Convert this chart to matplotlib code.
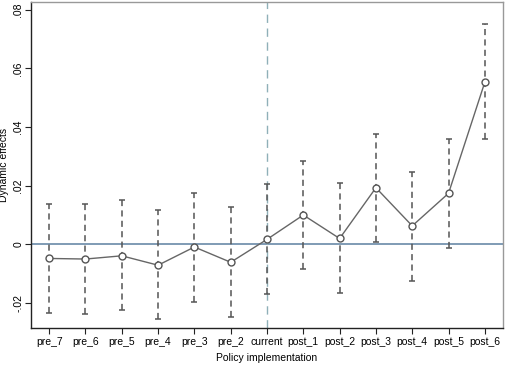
import matplotlib
matplotlib.use("Agg")
import matplotlib.pyplot as plt
import numpy as np

categories = ["pre_7", "pre_6", "pre_5", "pre_4", "pre_3", "pre_2", "current",
              "post_1", "post_2", "post_3", "post_4", "post_5", "post_6"]
estimates = [-0.0048, -0.0050, -0.0039, -0.0071, -0.0009, -0.0061, 0.0017,
             0.0100, 0.0020, 0.0193, 0.0063, 0.0174, 0.0553]
ci_upper = [0.0137, 0.0136, 0.0150, 0.0118, 0.0176, 0.0126, 0.0205,
            0.0284, 0.0208, 0.0376, 0.0246, 0.0359, 0.0750]
ci_lower = [-0.0234, -0.0236, -0.0224, -0.0256, -0.0198, -0.0247, -0.0170,
            -0.0085, -0.0165, 0.0007, -0.0125, -0.0014, 0.0358]
yticks = [-0.02, 0, 0.02, 0.04, 0.06, 0.08]
ytick_labels = ["-.02", "0", ".02", ".04", ".06", ".08"]

plt.rcParams['font.family'] = ['Liberation Sans', 'DejaVu Sans']

fig = plt.figure(figsize=(5.05, 3.65), dpi=100)
ax = fig.add_axes([31/505, 1-327.7/365, (503-31)/505, (327.7-2)/365])

x = np.arange(1, len(categories) + 1)
est = np.array(estimates)
lo = np.array(ci_lower)
hi = np.array(ci_upper)

ax.axhline(0, color="#6a8aa8", lw=1.2, zorder=1)
ax.axvline(7, color="#8fb0b8", lw=1.0, ls=(0, (6, 4)), zorder=1)

eb = ax.errorbar(x, est, yerr=[est - lo, hi - est], fmt="none", ecolor="#555555",
                 elinewidth=1.1, capsize=2.2, capthick=1.1, zorder=2)
for lc in eb[2]:
    lc.set_linestyle((0, (4.0, 2.8)))

ax.plot(x, est, color="#666666", lw=1.0, zorder=3)
ax.plot(x, est, ls="none", marker="o", ms=5.0, mfc="white", mec="#555555",
        mew=1.0, zorder=4)

ax.set_xlim(0.5, 13.5)
ax.set_ylim(-0.0284, 0.0826)
ax.set_xticks(x)
ax.set_xticklabels(categories, fontsize=7.5)
ax.set_yticks(yticks)
ax.set_yticklabels(ytick_labels, fontsize=7.5, rotation=90, va="center")
ax.tick_params(direction="out", length=4, width=0.8, color="#222222", pad=3)
ax.tick_params(axis="y", pad=1.5)

ax.set_xlabel("Policy implementation", fontsize=7.5, labelpad=4)
ax.set_ylabel("Dynamic effects", fontsize=7.5)
ax.yaxis.set_label_coords(-0.046, 0.5)

for s in ["left", "bottom"]:
    ax.spines[s].set_color("#222222")
    ax.spines[s].set_linewidth(1.0)
for s in ["top", "right"]:
    ax.spines[s].set_color("#999999")
    ax.spines[s].set_linewidth(1.0)

fig.savefig("out.png", dpi=100)
